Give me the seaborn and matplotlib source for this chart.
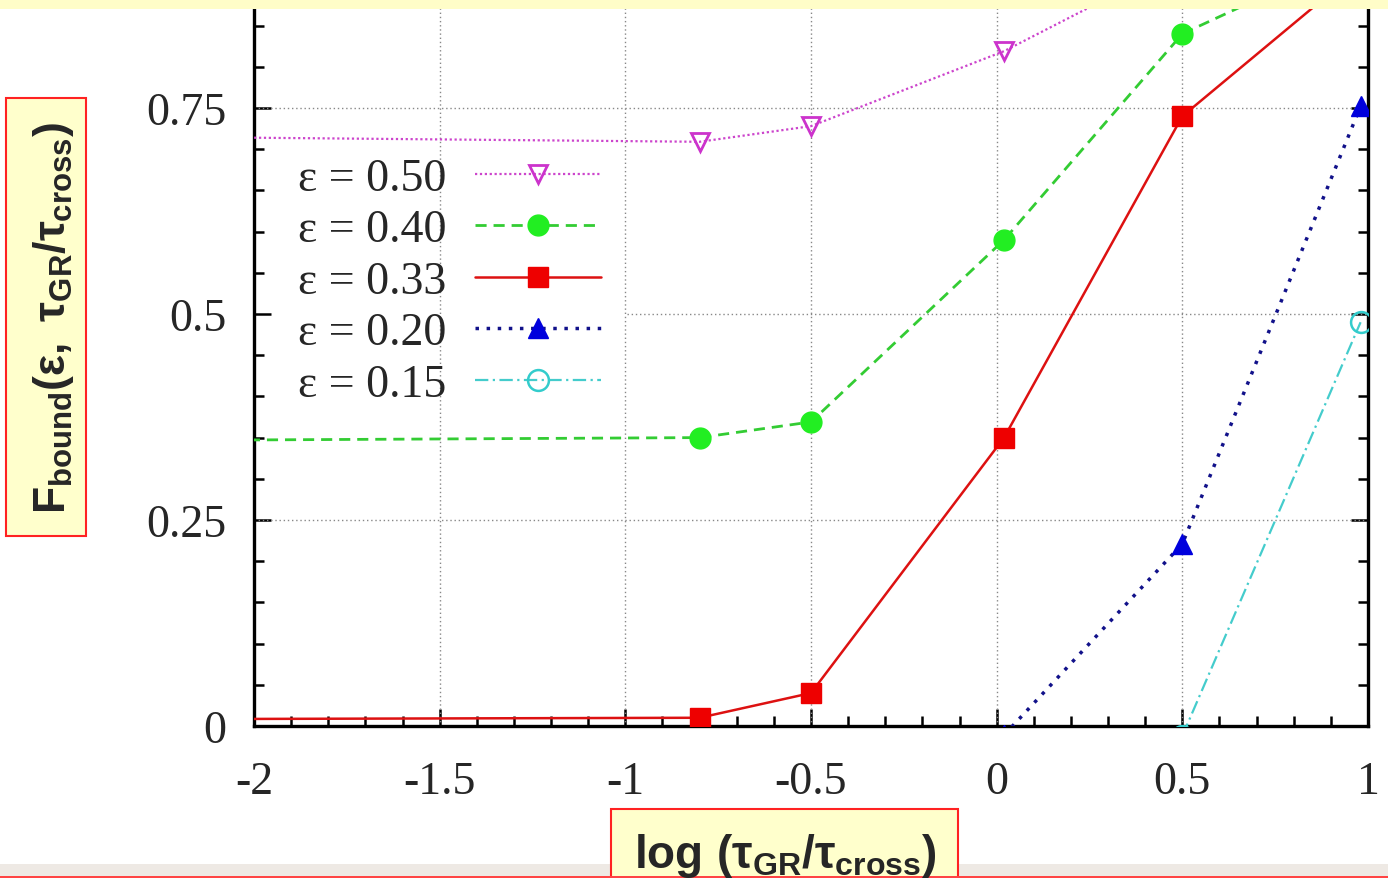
import matplotlib
matplotlib.use("Agg")
import matplotlib.pyplot as plt
from matplotlib.patches import Rectangle
from matplotlib.ticker import FixedLocator, MultipleLocator
import seaborn as sns

# ---------------- data ----------------
labels = ["ε = 0.50", "ε = 0.40", "ε = 0.33", "ε = 0.20", "ε = 0.15"]
x_050 = [-2.5, -0.8, -0.5, 0.02, 0.5]
y_050 = [0.716, 0.709, 0.728, 0.819, 0.93]
x_040 = [-2.5, -0.8, -0.5, 0.02, 0.5, 0.98]
y_040 = [0.346, 0.350, 0.369, 0.590, 0.840, 0.94]
x_033 = [-2.5, -0.8, -0.5, 0.02, 0.5, 0.98]
y_033 = [0.008, 0.010, 0.040, 0.350, 0.740, 0.92]
x_020 = [0.02, 0.5, 0.98]
y_020 = [-0.011, 0.221, 0.752]
x_015 = [0.5, 0.98]
y_015 = [-0.012, 0.490]

xticks = [-2, -1.5, -1, -0.5, 0, 0.5, 1]
xticklabels = ["-2", "-1.5", "-1", "-0.5", "0", "0.5", "1"]
yticks = [0, 0.25, 0.5, 0.75]
yticklabels = ["0", "0.25", "0.5", "0.75"]

xlabel = r"$\mathrm{log}\ (τ_{GR}/τ_{cross})$"
ylabel = r"$F_{bound}(ε,\ τ_{GR}/τ_{cross})$"

# ---------------- style ----------------
sns.set_style("ticks")
plt.rcParams["font.family"] = ["Liberation Serif", "DejaVu Serif"]
plt.rcParams["mathtext.fontset"] = "custom"
plt.rcParams["mathtext.rm"] = "Liberation Sans:bold"
plt.rcParams["mathtext.it"] = "Liberation Sans:bold"
plt.rcParams["mathtext.bf"] = "Liberation Sans:bold"
plt.rcParams["mathtext.sf"] = "Liberation Sans:bold"
plt.rcParams["axes.unicode_minus"] = False

W, H = 1388, 879
fig = plt.figure(figsize=(W / 100, H / 100), dpi=100)
fig.patch.set_facecolor("white")

# axes: x=-2 at px 254, x=1 at px 1368; y=0 at px 727, 824 px per unit
ax = fig.add_axes([254 / W, (H - 727) / H, 1114 / W, 824 / H])

series = [
    dict(x=x_050, y=y_050, color="#CC44CC", ls=(0, (1, 1.2)), lw=1.6, marker="v",
         mfc="none", mec="#CC33CC", ms=13, mew=2.0),
    dict(x=x_040, y=y_040, color="#33CC33", ls=(0, (4, 2.5)), lw=2.0, marker="o",
         mfc="#22EE22", mec="#22EE22", ms=15, mew=1.0),
    dict(x=x_033, y=y_033, color="#DD1111", ls="-", lw=1.8, marker="s",
         mfc="#EE0000", mec="#EE0000", ms=14, mew=1.0),
    dict(x=x_020, y=y_020, color="#11118A", ls=(0, (1, 2.2)), lw=2.5, marker="^",
         mfc="#0000DD", mec="#0000DD", ms=14, mew=1.0),
    dict(x=x_015, y=y_015, color="#44CCCC", ls=(0, (6, 2, 1, 2)), lw=1.6, marker="o",
         mfc="none", mec="#33CCCC", ms=15, mew=1.8),
]

for lab, s in zip(labels, series):
    sns.lineplot(x=s["x"], y=s["y"], ax=ax, color=s["color"], linestyle=s["ls"],
                 linewidth=s["lw"], marker=s["marker"], markersize=s["ms"],
                 markerfacecolor=s["mfc"], markeredgecolor=s["mec"],
                 markeredgewidth=s["mew"], label=lab, errorbar=None, sort=False,
                 zorder=3)

ax.set_xlim(-2, 1)
ax.set_ylim(0, 1)

# grid (dotted gray); the 0.5 line is hidden behind the key area
for xv in xticks[1:-1]:
    ax.axvline(xv, color="#888888", ls=(0, (1, 2)), lw=1.0, zorder=1)
ax.axhline(0.25, color="#888888", ls=(0, (1, 2)), lw=1.0, zorder=1)
ax.axhline(0.75, color="#888888", ls=(0, (1, 2)), lw=1.0, zorder=1)
ax.axhline(0.5, xmin=0.335, color="#888888", ls=(0, (1, 2)), lw=1.0, zorder=1)

ax.xaxis.set_major_locator(FixedLocator(xticks))
ax.set_xticklabels(xticklabels)
ax.yaxis.set_major_locator(FixedLocator(yticks))
ax.set_yticklabels(yticklabels)
ax.xaxis.set_minor_locator(MultipleLocator(0.1))
ax.yaxis.set_minor_locator(MultipleLocator(0.05))
ax.tick_params(which="both", direction="in", top=True, right=True,
               width=1.8, color="black")
ax.tick_params(which="major", length=12)
ax.tick_params(which="minor", length=7)
ax.tick_params(axis="x", which="major", labelsize=33, pad=25)
ax.tick_params(axis="y", which="major", labelsize=33, pad=20)
for sp in ax.spines.values():
    sp.set_linewidth(2.4)
    sp.set_color("black")

leg = ax.legend(loc="upper left", bbox_to_anchor=(0.0395, 0.690),
                markerfirst=False, frameon=False, fontsize=33,
                handlelength=2.75, handletextpad=0.62, labelspacing=0.195,
                borderpad=0.0, borderaxespad=0.0, numpoints=1)

# axis labels in yellow boxes with red frames
ax.set_xlabel(xlabel, fontsize=33, va="baseline", ha="center")
ax.xaxis.set_label_coords((785 - 254) / 1114, (727 - 868) / 824)
ax.set_ylabel(ylabel, fontsize=32, va="center", ha="center")
ax.yaxis.set_label_coords((54 - 254) / 1114, (727 - 318) / 824)
ax.xaxis.label.set_zorder(10)
ax.yaxis.label.set_zorder(10)

# decorations of the slide around the chart
fig.add_artist(Rectangle((0, 1 - 10 / H), 1, 10 / H, transform=fig.transFigure,
                         facecolor="#FFFDC8", edgecolor="none", zorder=20))
fig.add_artist(Rectangle((0, 2 / H), 1, 12 / H, transform=fig.transFigure,
                         facecolor="#EEE9E4", edgecolor="none", zorder=5))
fig.add_artist(Rectangle((6 / W, (H - 537) / H), 80 / W, 438 / H,
                         transform=fig.transFigure, facecolor="#FFFFCC",
                         edgecolor="#FF2222", lw=1.5, zorder=6))
fig.add_artist(Rectangle((611 / W, -0.01), 347 / W, (H - 810) / H + 0.01,
                         transform=fig.transFigure, facecolor="#FFFFCC",
                         edgecolor="#FF2222", lw=1.5, zorder=6))
fig.add_artist(Rectangle((0, 0), 1, 2 / H, transform=fig.transFigure,
                         facecolor="#FF4444", edgecolor="none", zorder=7))

# bring labels above the boxes
ax.set_zorder(8)
ax.patch.set_alpha(0)

fig.savefig("out.png", dpi=100)
